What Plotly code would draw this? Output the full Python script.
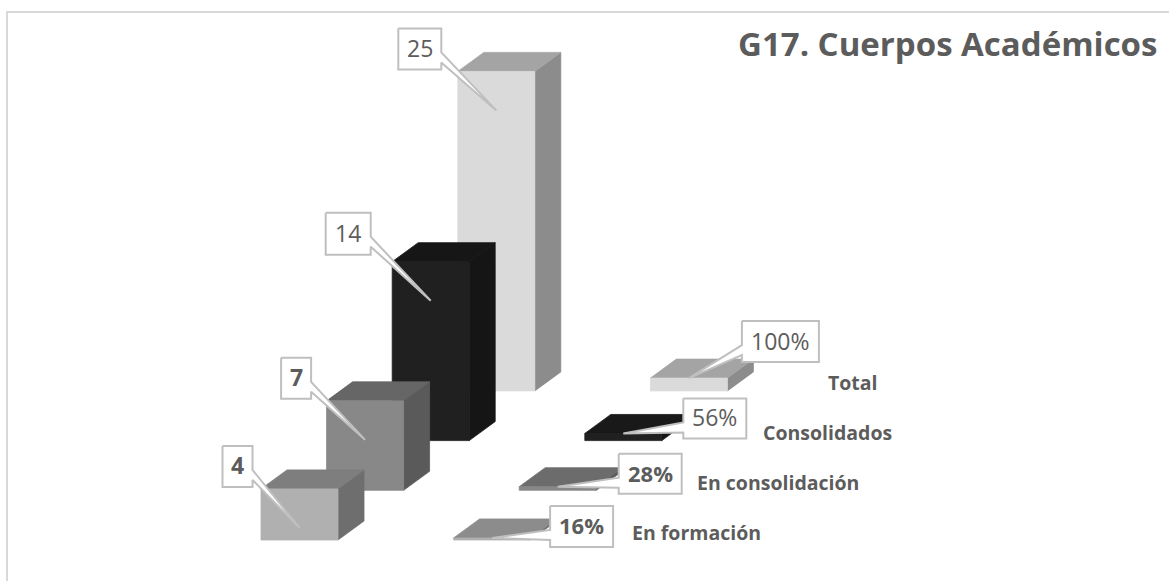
import plotly.graph_objects as go

# ---- data ----
categories = ["En formación", "En consolidación", "Consolidados", "Total"]
counts = [4, 7, 14, 25]
shares = [0.16, 0.28, 0.56, 1.00]
count_labels = ["4", "7", "14", "25"]
share_labels = ["16%", "28%", "56%", "100%"]
title_text = "G17. Cuerpos Académicos"

# ---- styles ----
front_a = ["#b0b0b0", "#888888", "#202020", "#dadada"]
top_a = ["#7e7e7e", "#666666", "#161616", "#a4a4a4"]
side_a = ["#6e6e6e", "#5a5a5a", "#151515", "#8c8c8c"]
top_b = ["#8c8c8c", "#6c6c6c", "#191919", "#a4a4a4"]
count_bold = [True, True, False, False]
share_bold = [True, True, False, False]
TXT = "#5c5c5c"
BORDER = "#bfbfbf"

# ---- oblique projection (category index, series index, value) -> page ----
X0, Y0 = 261.0, 540.0
CAT_DX, CAT_DY = 65.6, 49.7
SER_DX = 192.6
UNIT = 12.78
W, DX, DY = 77.0, 26.0, 19.0


def proj(i, j, v):
    return X0 + i * CAT_DX + j * SER_DX, Y0 - i * CAT_DY - v * UNIT


fig = go.Figure()


def poly(xs, ys, fill, line=None, lw=0.8):
    fig.add_trace(go.Scatter(
        x=xs + xs[:1], y=ys + ys[:1], mode="lines", fill="toself", fillcolor=fill,
        line=dict(color=line or fill, width=lw), hoverinfo="skip", showlegend=False))


def bar(i, j, v, front, top, side):
    x, yb = proj(i, j, 0)
    _, yt = proj(i, j, v)
    poly([x + W, x + W + DX, x + W + DX, x + W], [yb, yb - DY, yt - DY, yt], side)
    poly([x, x + DX, x + W + DX, x + W], [yt, yt - DY, yt - DY, yt], top)
    poly([x, x + W, x + W, x], [yb, yb, yt, yt], front)


for i in reversed(range(len(categories))):
    bar(i, 1, shares[i], front_a[i], top_b[i], side_a[i])
    bar(i, 0, counts[i], front_a[i], top_a[i], side_a[i])

# ---- callouts: offsets of the box from the pointer tip ----
count_tip_drop = 39.0
count_box = [(-77, -82, 30, 41), (-84, -82, 30, 41), (-105, -88, 45, 42), (-98, -82, 43, 41)]
share_box = [(58, -32, 63, 41), (61, -33, 63, 40), (60, -35, 63, 40), (53, -57, 77, 41)]
GAP_A, GAP_B = 24.0, 34.0


def callout(tx, ty, box, side):
    dx, dy, bw, bh = box
    l, t = tx + dx, ty + dy
    r, b = l + bw, t + bh
    a, c = t + GAP_A, t + GAP_B
    if side == "right":
        xs = [l, r, r, tx, r, r, l]
        ys = [t, t, a, ty, c, b, b]
    else:
        xs = [l, r, r, l, l, tx, l]
        ys = [t, t, b, b, c, ty, a]
    poly(xs, ys, "#ffffff", BORDER, 2)
    return (l + r) / 2, (t + b) / 2


annos = []


def label(x, y, text, bold, size=23):
    annos.append(dict(
        x=x, y=y, xref="x", yref="y", text=f"<b>{text}</b>" if bold else text,
        showarrow=False, xanchor="center", yanchor="middle",
        font=dict(family="Open Sans", size=size, color=TXT)))


for i in range(len(categories)):
    x, _ = proj(i, 0, 0)
    _, yt = proj(i, 0, counts[i])
    cx, cy = callout(x + W / 2, yt + count_tip_drop, count_box[i], "right")
    label(cx, cy - 1, count_labels[i], count_bold[i])

for i in range(len(categories)):
    x, _ = proj(i, 1, 0)
    _, yt = proj(i, 1, shares[i])
    cx, cy = callout(x + W / 2, yt, share_box[i], "left")
    label(cx, cy - 1, share_labels[i], share_bold[i], 23 if not share_bold[i] else 22)

# category labels sit to the right of the share bars
for i, name in enumerate(categories):
    x, y = proj(i, 1, 0)
    annos.append(dict(
        x=x + 176, y=y - 8, xref="x", yref="y", text=f"<b>{name}</b>", showarrow=False,
        xanchor="left", yanchor="middle",
        font=dict(family="Open Sans", size=19.5, color=TXT)))

annos.append(dict(
    x=1159, y=43, xref="x", yref="y", text=f"<b>{title_text}</b>", showarrow=False,
    xanchor="right", yanchor="middle", font=dict(family="Open Sans", size=33, color=TXT)))

fig.update_layout(
    width=1169, height=581, autosize=False,
    margin=dict(l=0, r=0, t=0, b=0),
    paper_bgcolor="white", plot_bgcolor="white",
    xaxis=dict(range=[0, 1169], visible=False, fixedrange=True),
    yaxis=dict(range=[581, 0], visible=False, fixedrange=True),
    annotations=annos,
    shapes=[
        dict(type="line", xref="x", yref="y", x0=6, x1=1169, y0=12, y1=12,
             line=dict(color="#d9d9d9", width=2)),
        dict(type="line", xref="x", yref="y", x0=7, x1=7, y0=11, y1=581,
             line=dict(color="#d9d9d9", width=2)),
    ],
)
fig.write_html("out.html", config=dict(displayModeBar=False),
               post_script="document.body.style.margin='0';document.body.style.overflow='hidden';")
